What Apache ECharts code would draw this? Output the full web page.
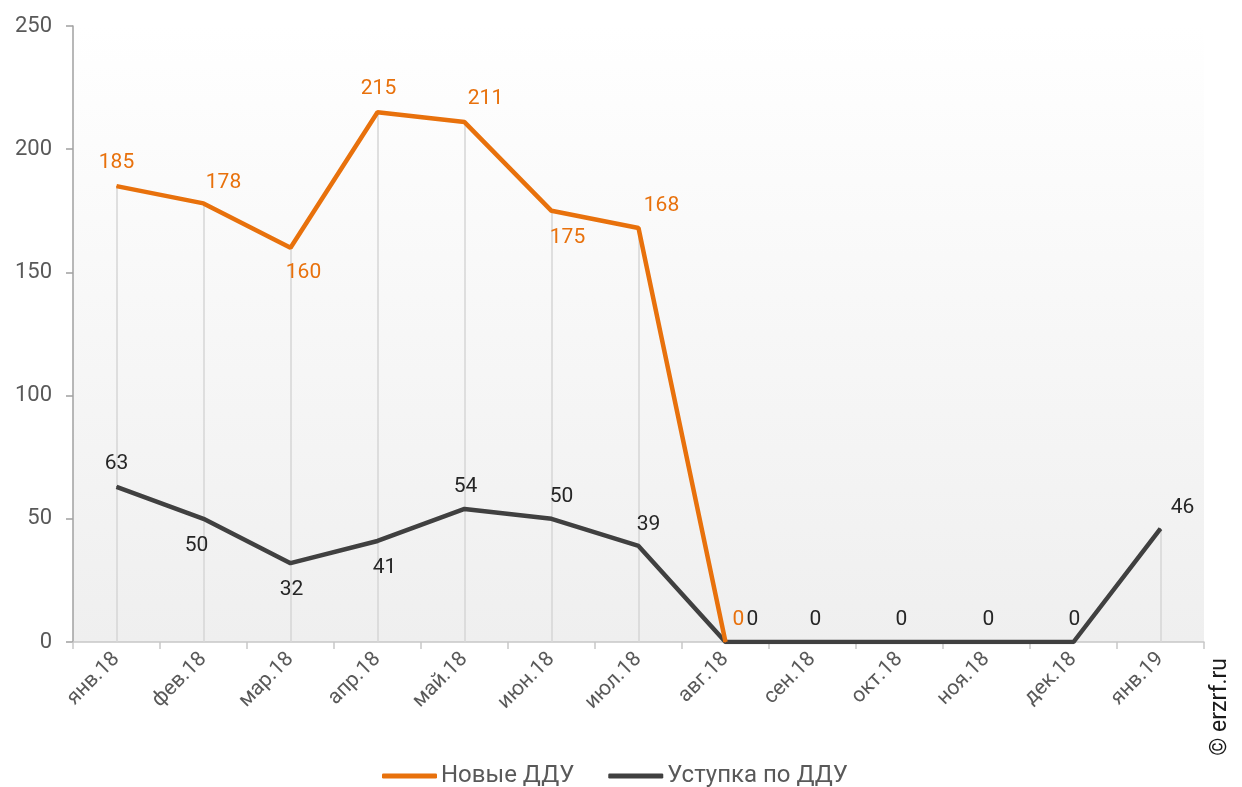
<!DOCTYPE html>
<html>
<head>
<meta charset="utf-8">
<script src="https://cdn.jsdelivr.net/npm/echarts@6/dist/echarts.min.js"></script>
<style>
  html, body { margin: 0; padding: 0; background: #fff; }
  #chart { width: 1242px; height: 787px; }
</style>
</head>
<body>
<div id="chart"></div>
<script>
// Monthly counts of registered contracts
const months = ['янв.18', 'фев.18', 'мар.18', 'апр.18', 'май.18', 'июн.18', 'июл.18',
                'авг.18', 'сен.18', 'окт.18', 'ноя.18', 'дек.18', 'янв.19'];
const newDdu = [185, 178, 160, 215, 211, 175, 168, 0, null, null, null, null, null];
const assignDdu = [63, 50, 32, 41, 54, 50, 39, 0, 0, 0, 0, 0, 46];
const yTicks = [0, 50, 100, 150, 200, 250];

// label offsets (px) from each point, so labels avoid the lines
const newOffsets = [[0, -23], [20, -21], [13, 25], [1, -23], [21, -23], [16, 27], [23, -22], [13, -22]];
const assignOffsets = [[0, -23], [-7, 27], [1, 27], [7, 27], [1, -22], [10, -22], [10, -21],
                       [27, -22], [3, -22], [2, -22], [2, -22], [1, -22], [22, -21]];

const ORANGE = '#E8710C';
const DARK = '#404040';
const TXT = '#595959';
const FONT = 'Roboto';

function withLabels(values, offsets, color) {
  return values.map((v, i) => v === null ? null : {
    value: v,
    label: { offset: offsets[i] || [0, -22], color: color }
  });
}

// vertical drop lines from the higher of the two values down to the axis
const dropLines = [];
months.forEach((m, i) => {
  const a = newDdu[i], b = assignDdu[i];
  const top = Math.max(a === null ? -Infinity : a, b === null ? -Infinity : b);
  if (top > 0) dropLines.push([{ coord: [i, top] }, { coord: [i, 0] }]);
});

const chart = echarts.init(document.getElementById('chart'));
chart.setOption({
  animation: false,
  textStyle: { fontFamily: FONT },
  grid: {
    left: 73, right: 38, top: 26, bottom: 145,
    show: true, borderWidth: 0,
    backgroundColor: {
      type: 'linear', x: 0, y: 0, x2: 0, y2: 1,
      colorStops: [{ offset: 0, color: '#ffffff' }, { offset: 1, color: '#efefef' }]
    }
  },
  legend: {
    top: 764, left: 382, padding: 0,
    itemWidth: 55, itemHeight: 5, itemGap: 34,
    icon: 'roundRect',
    textStyle: { fontSize: 24, color: TXT, fontFamily: FONT, padding: [0, 0, 0, -1] },
    data: ['Новые ДДУ', 'Уступка по ДДУ']
  },
  xAxis: {
    type: 'category',
    data: months,
    boundaryGap: true,
    axisLine: { lineStyle: { color: '#c8c8c8', width: 1.5 } },
    axisTick: { show: true, length: 7, lineStyle: { color: '#c8c8c8', width: 1.5 } },
    axisLabel: { rotate: 45, fontSize: 21, color: TXT, margin: 14, interval: 0, fontFamily: FONT },
    splitLine: { show: false }
  },
  yAxis: {
    type: 'value',
    min: 0, max: 250, interval: 50,
    axisLine: { show: true, lineStyle: { color: '#a0a0a0', width: 1.5 } },
    axisTick: { show: true, length: 7, lineStyle: { color: '#a0a0a0', width: 1.5 } },
    axisLabel: {
      fontSize: 22, color: TXT, margin: 21, fontFamily: FONT,
      formatter: v => yTicks.includes(v) ? String(v) : ''
    },
    splitLine: { show: false }
  },
  series: [
    {
      name: 'Уступка по ДДУ',
      type: 'line',
      data: withLabels(assignDdu, assignOffsets, '#262626'),
      symbol: 'circle', symbolSize: 1,
      lineStyle: { color: DARK, width: 4.5 },
      itemStyle: { color: DARK },
      label: { show: true, position: 'inside', fontSize: 21, fontFamily: FONT },
      markLine: {
        silent: true, symbol: 'none', z: 1,
        label: { show: false },
        lineStyle: { color: '#d6d6d6', width: 1.5, type: 'solid' },
        data: dropLines
      },
      z: 3
    },
    {
      name: 'Новые ДДУ',
      type: 'line',
      data: withLabels(newDdu, newOffsets, ORANGE),
      symbol: 'circle', symbolSize: 1,
      lineStyle: { color: ORANGE, width: 4.5 },
      itemStyle: { color: ORANGE },
      label: { show: true, position: 'inside', fontSize: 21, fontFamily: FONT },
      z: 4
    }
  ],
  graphic: [{
    type: 'text',
    left: 1209, top: 658,
    rotation: Math.PI / 2,
    style: { text: '© erzrf.ru', fontSize: 23, fill: '#1a1a1a', fontFamily: FONT }
  }]
});
</script>
</body>
</html>
